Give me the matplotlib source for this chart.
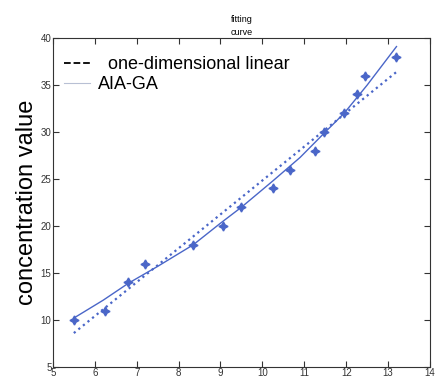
import matplotlib.pyplot as plt

plt.rcParams['font.family'] = ['Liberation Sans', 'DejaVu Sans']

# measured points
x_data = [5.5, 6.25, 6.8, 7.2, 8.35, 9.05, 9.5, 10.25, 10.65, 11.25, 11.48, 11.95, 12.25, 12.45, 13.2]
y_data = [10.0, 11.0, 14.0, 16.0, 18.0, 20.0, 22.0, 24.0, 26.0, 28.0, 30.0, 32.0, 34.0, 36.0, 38.0]

# one-dimensional linear fit
lin_x = [5.5, 13.2]
lin_y = [8.6, 36.4]

# AIA-GA fitted curve
ga_x = [5.5, 6.2, 6.8, 7.5, 8.35, 9.0, 9.5, 10.25, 10.9, 11.5, 11.95, 12.5, 13.2]
ga_y = [10.2, 12.1, 13.9, 15.7, 18.0, 20.3, 22.0, 24.8, 27.3, 30.0, 32.0, 35.0, 39.1]

blue = '#4a66c8'

fig = plt.figure(figsize=(4.37, 3.85), dpi=100)
ax = fig.add_axes([0.121, 0.047, 0.863, 0.854])

ax.plot(lin_x, lin_y, linestyle=':', color=blue, linewidth=1.6)
ax.plot(ga_x, ga_y, linestyle='-', color=blue, linewidth=1.0)
ax.plot(x_data, y_data, linestyle='none', marker=(4, 1, 0), color=blue, markersize=6.5)

# legend handles as drawn in the original
h1, = ax.plot([], [], 'k--', linewidth=1.3)
h2, = ax.plot([], [], '-', color='#b8c0d4', linewidth=0.8)
ax.legend([h1, h2], ['  one-dimensional linear', 'AIA-GA'], loc='upper left',
          bbox_to_anchor=(0.010, 0.967), borderaxespad=0,
          frameon=False, fontsize=13, handlelength=1.45,
          labelspacing=0.15, handletextpad=0.45)

ax.set_xlim(5, 14)
ax.set_ylim(5, 40)
ax.set_xticks(range(5, 15))
ax.set_yticks(range(5, 41, 5))
ax.tick_params(direction='in', top=True, right=True, labelsize=7, colors='#333333',
               length=4, pad=1)
for s in ax.spines.values():
    s.set_color('#333333')
    s.set_linewidth(0.8)

ax.set_title('fitting\ncurve', fontsize=6.5, pad=2, linespacing=1.6)
ax.set_ylabel('concentration value', fontsize=17, labelpad=2)

fig.savefig('out.png', dpi=100)
